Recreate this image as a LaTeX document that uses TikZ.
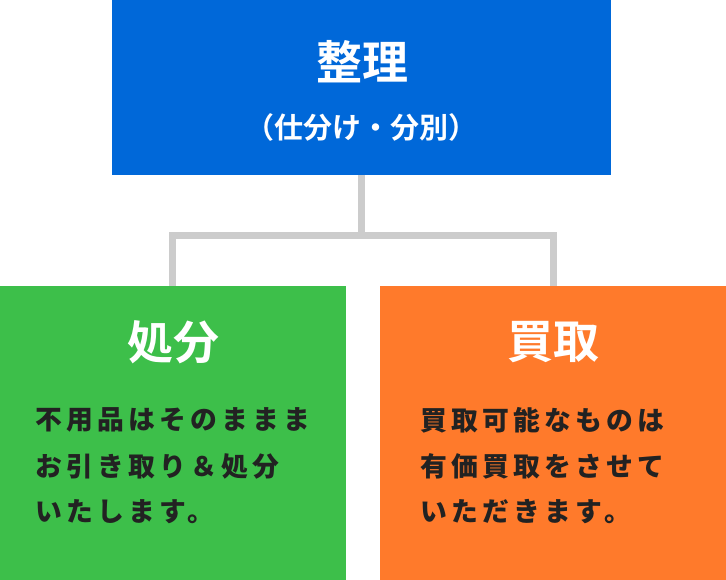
\documentclass[tikz,border=0pt]{standalone}
\usepackage{fontspec}
\setmainfont{Noto Sans CJK JP}[BoldFont={Noto Sans CJK JP Bold}]
\newfontfamily\bodyf{Noto Sans CJK JP}[LetterSpace=16]
\definecolor{cblue}{HTML}{0068D9}
\definecolor{cgreen}{HTML}{3DBF4A}
\definecolor{corange}{HTML}{FF7A2B}
\definecolor{cgray}{HTML}{CCCCCC}
\definecolor{ctext}{HTML}{222222}
\begin{document}
\begin{tikzpicture}[x=1pt,y=-1pt,
  title/.style={text=white,font=\bfseries\fontsize{46}{52}\selectfont},
  body/.style={text=ctext,anchor=west,font=\bodyf\bfseries\fontsize{26.8}{30}\selectfont,inner sep=0},
  conn/.style={cgray,line width=7pt}]
\useasboundingbox (0,0) rectangle (726,580);
\fill[cblue] (112,0) rectangle (611,175);
\fill[cgreen] (0,286) rectangle (346,580);
\fill[corange] (380,286) rectangle (726,580);
\coordinate (top) at (361,175);
\coordinate (gl) at (172,286);
\coordinate (ol) at (553,286);
\draw[conn] (top) -- (361,236) -| (gl);
\draw[conn] (361,236) -| (ol);
\node[title] (t1) at (362,62) {整理};
\node[text=white,font=\bfseries\fontsize{29}{34}\selectfont] (t2) at (361,127) {（仕分け・分別）};
\node[title] (g1) at (173,342) {処分};
\node[title] (o1) at (553,342) {買取};
\node[body] (g2) at (35,420) {不用品はそのままま};
\node[body] (g3) at (35,466) {お引き取り＆処分};
\node[body] (g4) at (35,512) {いたします。};
\node[body] (o2) at (420,420) {買取可能なものは};
\node[body] (o3) at (420,466) {有価買取をさせて};
\node[body] (o4) at (420,512) {いただきます。};
\end{tikzpicture}
\end{document}
